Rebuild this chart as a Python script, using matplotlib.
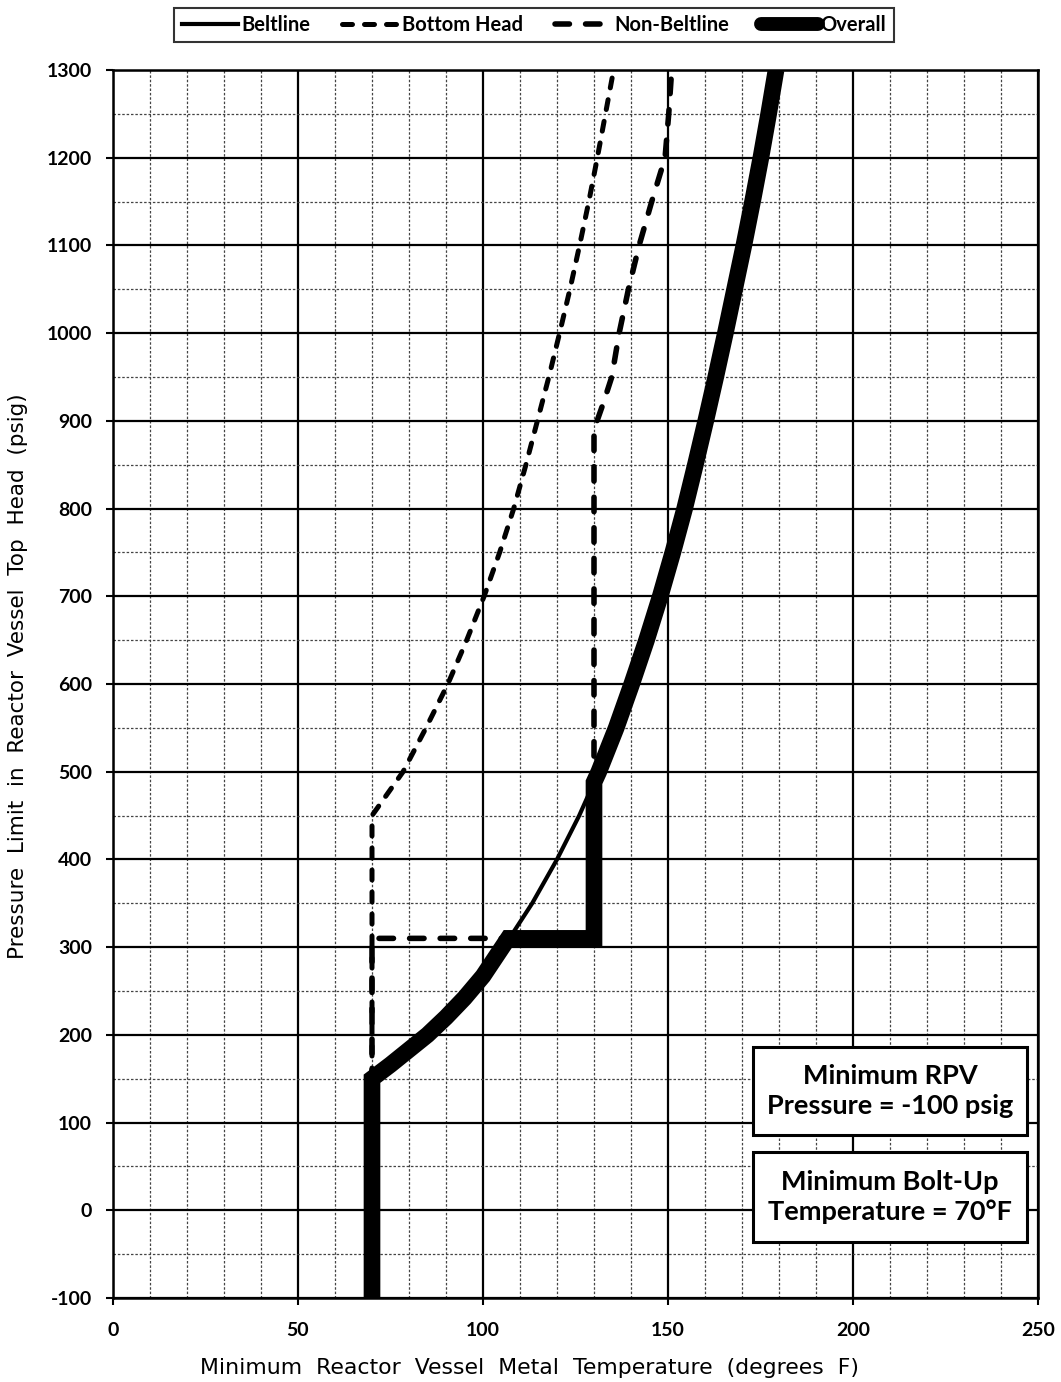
import matplotlib
matplotlib.use("Agg")
import matplotlib.pyplot as plt
from matplotlib.lines import Line2D
from matplotlib.patches import Rectangle
from matplotlib.ticker import MultipleLocator

# ---- data ----
beltline_x = [70, 70, 75, 80, 85, 90, 95, 100, 105.6, 113.3, 120.0, 126.0, 131.3,
              136.0, 140.2, 144.2, 147.9, 151.3, 154.5, 157.4, 160.2, 162.9, 165.5,
              168.0, 170.5, 172.85, 175.1, 177.2, 179.2]
beltline_y = [-100, 150, 166, 183, 200, 220, 242, 267, 300, 350, 400, 450, 500,
              550, 600, 650, 700, 750, 800, 850, 900, 950, 1000,
              1050, 1100, 1150, 1200, 1250, 1300]

bottom_head_x = [70, 70, 78.4, 84.6, 90.5, 95.6, 100.3, 104.5, 108.3, 111.6, 114.7,
                 117.8, 120.7, 123.5, 126.1, 128.6, 130.9, 133.1, 135.3]
bottom_head_y = [-100, 450, 500, 550, 600, 650, 700, 750, 800, 850, 900,
                 950, 1000, 1050, 1100, 1150, 1200, 1250, 1300]

non_beltline_x = [70, 70, 130, 130, 132.5, 134.8, 136.8, 139.3, 142.2, 145.6, 149.2, 150.2, 151]
non_beltline_y = [-100, 310, 310, 890, 920, 950, 1000, 1050, 1100, 1150, 1200, 1250, 1300]

overall_x = [70, 70, 75, 80, 85, 90, 95, 100, 106.8, 130, 130, 131.3, 136.0, 140.2,
             144.2, 147.9, 151.3, 154.5, 157.4, 160.2, 162.9, 165.5, 168.0, 170.5,
             172.85, 175.1, 177.2, 179.2]
overall_y = [-100, 150, 166, 183, 200, 220, 242, 267, 310, 310, 488, 500, 550, 600,
             650, 700, 750, 800, 850, 900, 950, 1000, 1050, 1100,
             1150, 1200, 1250, 1300]

series_labels = ["Beltline", "Bottom Head", "Non-Beltline", "Overall"]
x_ticks = [0, 50, 100, 150, 200, 250]
y_ticks = list(range(-100, 1301, 100))
box_texts = ["Minimum RPV\nPressure = -100 psig",
             "Minimum Bolt-Up\nTemperature = 70\u00b0F"]

# ---- figure ----
fig = plt.figure(figsize=(10.61, 13.82), dpi=100)
ax = fig.add_axes([113 / 1061, 84 / 1382, 925 / 1061, 1228 / 1382])

ax.set_xlim(0, 250)
ax.set_ylim(-100, 1300)
ax.xaxis.set_major_locator(MultipleLocator(50))
ax.xaxis.set_minor_locator(MultipleLocator(10))
ax.yaxis.set_major_locator(MultipleLocator(100))
ax.yaxis.set_minor_locator(MultipleLocator(50))

ax.grid(which="major", color="black", linewidth=1.6, linestyle="-", zorder=0)
ax.grid(which="minor", color="#444444", linewidth=0.9, linestyle=(0, (2, 1.5)), zorder=0)
ax.set_axisbelow(True)

for s in ax.spines.values():
    s.set_linewidth(1.8)
    s.set_color("black")

ax.set_xticks(x_ticks)
ax.set_yticks(y_ticks)
tick_font = dict(family="Lato", weight="bold", size=14)
ax.set_xticklabels([str(v) for v in x_ticks], **tick_font)
ax.set_yticklabels([str(v) for v in y_ticks], **tick_font)
ax.tick_params(axis="x", which="major", direction="out", length=5, width=1.5, pad=12)
ax.tick_params(axis="y", which="major", direction="out", length=5, width=1.5, pad=10)
ax.tick_params(which="minor", length=0)

ax.set_xlabel("Minimum  Reactor  Vessel  Metal  Temperature  (degrees  F)",
              family="DejaVu Sans", size=15.8, labelpad=14)
ax.xaxis.set_label_coords((530 - 113) / 925, -0.049)
ax.set_ylabel("Pressure  Limit  in  Reactor  Vessel  Top  Head  (psig)",
              family="DejaVu Sans", size=15.5)
ax.yaxis.set_label_coords(-0.092, 0.506)

# ---- series ----
bh_style = dict(color="black", linewidth=3.6, linestyle=(0, (2.0, 2.4)),
                dash_capstyle="round")
nb_style = dict(color="black", linewidth=4.0, linestyle=(0, (2.6, 2.9)),
                dash_capstyle="round")
bl_style = dict(color="black", linewidth=3.0, linestyle="-")
ov_style = dict(color="black", linewidth=12, linestyle="-",
                solid_joinstyle="miter", solid_capstyle="butt")

ax.plot(bottom_head_x, bottom_head_y, zorder=3, **bh_style)
ax.plot(non_beltline_x, non_beltline_y, zorder=3, **nb_style)
ax.plot(beltline_x, beltline_y, zorder=4, **bl_style)
ax.plot(overall_x, overall_y, zorder=5, **ov_style)

# ---- legend ----
handles = [Line2D([], [], **bl_style),
           Line2D([], [], **bh_style),
           Line2D([], [], **nb_style),
           Line2D([], [], color="black", linewidth=10, solid_capstyle="round")]
leg = fig.legend(handles, series_labels, loc="upper center",
                 bbox_to_anchor=(534 / 1061, 1 - 8 / 1382), ncol=4,
                 prop=dict(family="Lato", weight="bold", size=14.5),
                 handlelength=2.8, handletextpad=0.15, columnspacing=1.6,
                 frameon=True, fancybox=False, borderpad=0.35, borderaxespad=0)
leg.get_frame().set_edgecolor("black")
leg.get_frame().set_linewidth(1.5)

# ---- annotation boxes ----
box_x0, box_x1 = 0.692, 0.988
boxes = [(0.1327, 0.2044), (0.0456, 0.1189)]
for (y0, y1), txt in zip(boxes, box_texts):
    ax.add_patch(Rectangle((box_x0, y0), box_x1 - box_x0, y1 - y0,
                           transform=ax.transAxes, facecolor="white",
                           edgecolor="black", linewidth=2.2, zorder=6))
    ax.text((box_x0 + box_x1) / 2, (y0 + y1) / 2, txt, transform=ax.transAxes,
            ha="center", va="center", family="Lato", weight="bold", size=19.5,
            linespacing=1.3, zorder=7)

fig.savefig("out.png", dpi=100)
